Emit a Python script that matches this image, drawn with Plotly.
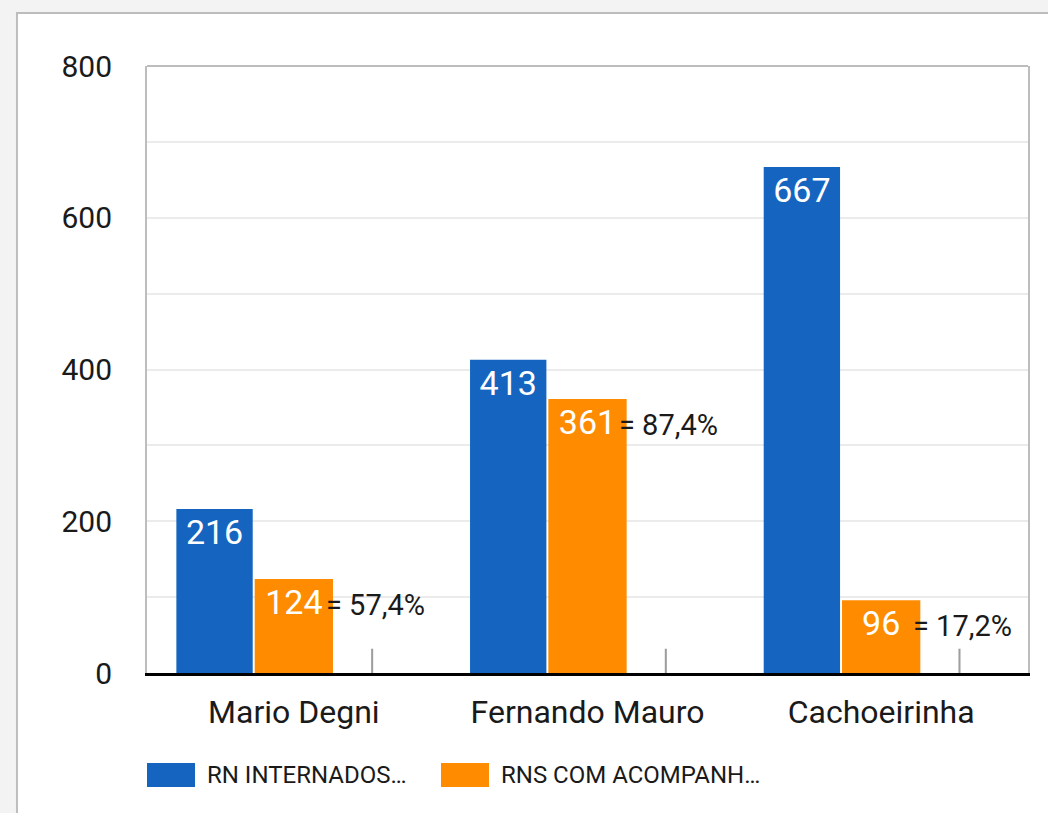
import plotly.graph_objects as go

categories = ["Mario Degni", "Fernando Mauro", "Cachoeirinha"]
internados = [216, 413, 667]
acompanhados = [124, 361, 96]
percent_labels = ["= 57,4%", "= 87,4%", "= 17,2%"]
guide_values = [32, 32, 32]
series_names = ["RN INTERNADOS…", "RNS COM ACOMPANH…"]
y_tick_values = [0, 200, 400, 600, 800]

BLUE = "#1565c0"
ORANGE = "#ff8c00"
GRID = "#ebebeb"
FRAME = "#bdbdbd"
FONT = "Roboto"
TEXT = "#1a1a1a"

slot = 0.8 / 3

fig = go.Figure()
fig.add_trace(go.Bar(
    x=categories, y=internados, name=series_names[0],
    marker=dict(color=BLUE, line=dict(width=0)),
    width=0.26, offset=-0.4,
    text=internados, texttemplate="%{y}", textposition="inside",
    insidetextanchor="end", textangle=0, constraintext="none",
    textfont=dict(color="white", size=34, family=FONT),
    hoverinfo="skip",
))
fig.add_trace(go.Bar(
    x=categories, y=acompanhados, name=series_names[1],
    marker=dict(color=ORANGE, line=dict(width=0)),
    width=slot, offset=-0.4 + slot,
    text=acompanhados, texttemplate="%{y}", textposition="inside",
    insidetextanchor="end", textangle=0, constraintext="none",
    textfont=dict(color="white", size=34, family=FONT),
    hoverinfo="skip",
))
fig.add_trace(go.Bar(
    x=categories, y=guide_values, name="guide",
    marker=dict(color="#9e9e9e", line=dict(width=0)),
    width=0.007, offset=-0.4 + 2.5 * slot - 0.0035,
    hoverinfo="skip", showlegend=False,
))

for i, (lab, v) in enumerate(zip(percent_labels, acompanhados)):
    fig.add_annotation(
        x=i - 0.4 + 2.5 * slot, y=v, xref="x", yref="y",
        text=lab, showarrow=False, xanchor="center", yanchor="middle",
        xshift=3, yshift=-26, font=dict(size=29, color=TEXT, family=FONT),
    )

# Card background and frame
fig.add_shape(type="rect", xref="paper", yref="paper",
              x0=-0.1476, x1=1.2, y0=-0.4, y1=1.0873,
              fillcolor="white", line=dict(color=FRAME, width=2), layer="below")
# top frame line of plot area
fig.add_shape(type="line", xref="paper", yref="paper", x0=0, x1=1, y0=1, y1=1,
              line=dict(color=FRAME, width=2))

# Legend (drawn manually to match large swatches)
legend_items = [(0.0, BLUE, series_names[0]), (0.3337, ORANGE, series_names[1])]
for x0, col, name in legend_items:
    fig.add_shape(type="rect", xref="paper", yref="paper",
                  x0=x0, x1=x0 + 0.0545, y0=-0.1878, y1=-0.1483,
                  fillcolor=col, line=dict(width=0))
    fig.add_annotation(xref="paper", yref="paper", x=x0 + 0.0658, y=-0.168,
                       text=name, showarrow=False, xanchor="left", yanchor="middle",
                       font=dict(size=24, color=TEXT, family=FONT))

fig.update_layout(
    width=1048, height=813,
    margin=dict(l=147, r=20, t=66, b=140),
    paper_bgcolor="#f3f3f3", plot_bgcolor="white",
    barmode="overlay", showlegend=False,
    font=dict(family=FONT, color=TEXT),
)
fig.update_xaxes(
    showline=True, linecolor="black", linewidth=2.5,
    ticks="", tickfont=dict(size=32, color=TEXT, family=FONT),
    ticklabelstandoff=9, showgrid=False, zeroline=False,
)
fig.update_yaxes(
    range=[0, 800], tickvals=y_tick_values,
    showline=True, linecolor=FRAME, linewidth=2, mirror=True,
    showgrid=True, gridcolor=GRID, gridwidth=1.5,
    minor=dict(dtick=100, showgrid=True, gridcolor=GRID, gridwidth=1.5),
    zeroline=False, ticks="",
    tickfont=dict(size=30, color=TEXT, family=FONT),
    ticklabelstandoff=27,
)

fig.write_html(
    "out.html",
    config={"displayModeBar": False},
    post_script="document.body.style.margin='0';document.body.style.background='#f3f3f3';",
)
